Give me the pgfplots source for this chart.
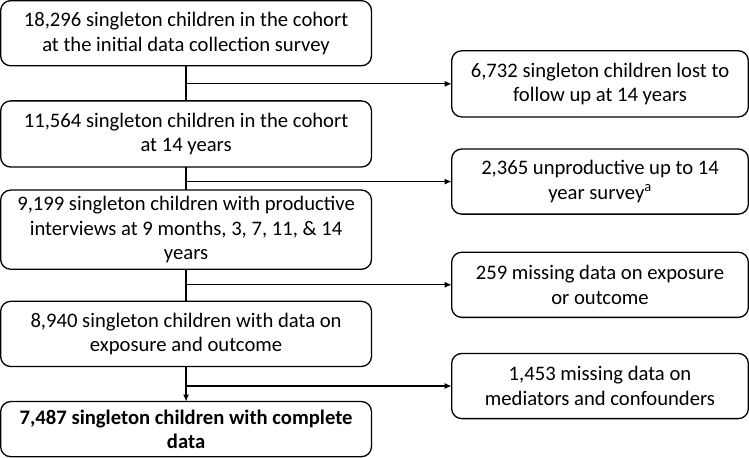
\documentclass[border=0pt]{standalone}
\usepackage{pgfplots}
\pgfplotsset{compat=1.18}
\usepackage{fontspec}
\setmainfont{Carlito}
\usetikzlibrary{arrows.meta}
\begin{document}
\begin{tikzpicture}
\begin{axis}[
  width=749pt, height=458pt, scale only axis,
  xmin=0, xmax=749, ymin=0, ymax=458, y dir=reverse,
  axis lines=none, clip=false,
]
\tikzset{
  bx/.style={draw, line width=1.3pt, rounded corners=10pt, align=center, inner sep=0pt,
     font=\fontsize{20.6}{24.5}\selectfont, anchor=center},
  arr/.style={line width=1.2pt, -{Latex[length=7pt,width=6pt]}},
}
% left boxes
\node[bx, minimum width=370pt, minimum height=65pt] at (axis cs:186,33.5) {18,296 singleton children in the cohort\\at the initial data collection survey};
\node[bx, minimum width=370pt, minimum height=66pt] at (axis cs:186,134) {11,564 singleton children in the cohort\\at 14 years};
\node[bx, minimum width=370pt, minimum height=79pt] at (axis cs:186,229.5) {9,199 singleton children with productive\\interviews at 9 months, 3, 7, 11, \& 14\\years};
\node[bx, minimum width=370pt, minimum height=65pt] at (axis cs:186,333.5) {8,940 singleton children with data on\\exposure and outcome};
\node[bx, minimum width=370pt, minimum height=55pt] at (axis cs:186,428.5) {\bfseries 7,487 singleton children with complete\\\bfseries data};
% right boxes
\node[bx, minimum width=296pt, minimum height=66pt] at (axis cs:599,84) {6,732 singleton children lost to\\follow up at 14 years};
\node[bx, minimum width=296pt, minimum height=65pt] at (axis cs:599,181.5) {2,365 unproductive up to 14\\year survey\textsuperscript{a}};
\node[bx, minimum width=296pt, minimum height=65pt] at (axis cs:599,284.5) {259 missing data on exposure\\or outcome};
\node[bx, minimum width=296pt, minimum height=65pt] at (axis cs:599,385.5) {1,453 missing data on\\mediators and confounders};
% vertical connectors
\draw[line width=1.2pt] (axis cs:186,66) -- (axis cs:186,101);
\draw[line width=1.2pt] (axis cs:186,167) -- (axis cs:186,190);
\draw[line width=1.2pt] (axis cs:186,269) -- (axis cs:186,301);
\draw[arr] (axis cs:186,366) -- (axis cs:186,401);
% horizontal branches
\draw[arr] (axis cs:186,84) -- (axis cs:451,84);
\draw[arr] (axis cs:186,181.5) -- (axis cs:451,181.5);
\draw[arr] (axis cs:186,284.5) -- (axis cs:451,284.5);
\draw[arr] (axis cs:186,385.5) -- (axis cs:451,385.5);
\end{axis}
\end{tikzpicture}
\end{document}
